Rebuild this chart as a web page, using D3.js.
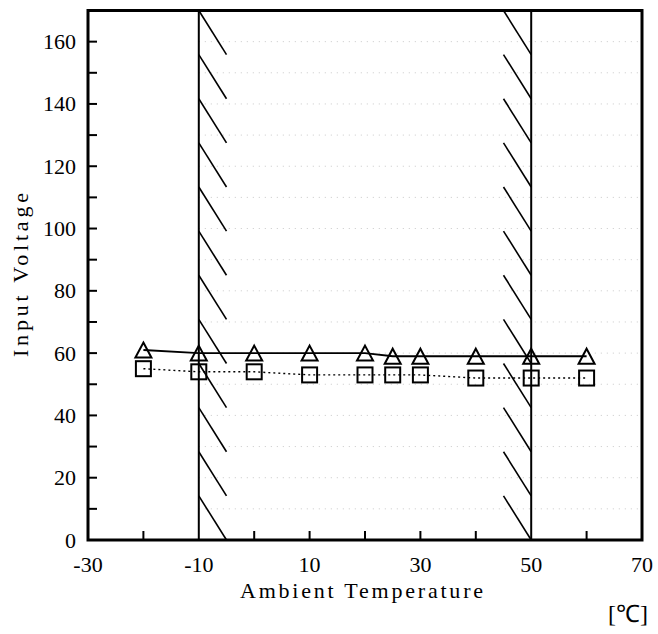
<!DOCTYPE html>
<html><head><meta charset="utf-8">
<script src="https://cdn.jsdelivr.net/npm/d3@7/dist/d3.min.js"></script>
<style>html,body{margin:0;padding:0;background:#fff;}svg{display:block;}</style>
</head><body>
<svg id="chart" width="658" height="634"></svg>
<script>
// ---- data ----
const temperatures = [-20, -10, 0, 10, 20, 25, 30, 40, 50, 60];
const triangleSeries = [61, 60, 60, 60, 60, 59, 59, 59, 59, 59];
const squareSeries   = [55, 54, 54, 53, 53, 53, 53, 52, 52, 52];
const xTickLabels = [-30, -10, 10, 30, 50, 70];
const yTickLabels = [0, 20, 40, 60, 80, 100, 120, 140, 160];
const limitLines = [-10, 50];
const xTitle = "Ambient Temperature";
const yTitle = "Input Voltage";
const unitLabel = "[\u2103]";

// ---- layout ----
const L = 88, R = 642, T = 10.5, B = 540;
const x = d3.scaleLinear().domain([-30, 70]).range([L, R]);
const y = d3.scaleLinear().domain([0, 170]).range([B, T]);
const svg = d3.select("#chart").attr("font-family", "Liberation Serif");
const FONT = "Liberation Serif";

// grid (faint dotted)
const grid = svg.append("g").attr("stroke", "#c8c8c8").attr("stroke-width", 1).attr("stroke-dasharray", "1,5");
grid.selectAll("line.h").data(d3.range(10, 170, 10)).join("line")
  .attr("x1", x(-10)).attr("x2", x(70)).attr("y1", d => y(d)).attr("y2", d => y(d));

// hatching
const nH = 12, step = 170 / nH;
const hatchTops = d3.range(nH).map(k => 170 - k * step);
const hatch = svg.append("g").attr("stroke", "#000").attr("stroke-width", 1.6);
hatch.selectAll("line.a").data(hatchTops).join("line")
  .attr("x1", x(-10)).attr("y1", d => y(d)).attr("x2", x(-5)).attr("y2", d => y(d - step));
hatch.selectAll("line.b").data(hatchTops).join("line")
  .attr("x1", x(45)).attr("y1", d => y(d)).attr("x2", x(50)).attr("y2", d => y(d - step));

// limit lines
svg.append("g").selectAll("line").data(limitLines).join("line")
  .attr("x1", d => x(d)).attr("x2", d => x(d)).attr("y1", y(0)).attr("y2", y(170))
  .attr("stroke", "#000").attr("stroke-width", 2);

// ticks (inward)
const ticks = svg.append("g").attr("stroke", "#000").attr("stroke-width", 2);
ticks.selectAll("line.y").data(d3.range(10, 170, 10)).join("line")
  .attr("x1", L).attr("x2", L + 9).attr("y1", d => y(d)).attr("y2", d => y(d));
ticks.selectAll("line.x").data(d3.range(-20, 70, 10).filter(d => !limitLines.includes(d))).join("line")
  .attr("x1", d => x(d)).attr("x2", d => x(d)).attr("y1", B).attr("y2", B - 9);

// frame
svg.append("rect").attr("x", L).attr("y", T).attr("width", R - L).attr("height", B - T)
  .attr("fill", "none").attr("stroke", "#000").attr("stroke-width", 3);

// tick labels
svg.append("g").selectAll("text").data(yTickLabels).join("text")
  .attr("x", L - 12).attr("y", d => y(d) + 7.5).attr("text-anchor", "end")
  .attr("font-size", 22).attr("font-family", FONT).text(d => d);
svg.append("g").selectAll("text").data(xTickLabels).join("text")
  .attr("x", d => x(d)).attr("y", 572).attr("text-anchor", "middle")
  .attr("font-size", 22).attr("font-family", FONT).text(d => (d < 0 ? "-" + Math.abs(d) : d));

// titles
svg.append("text").attr("x", 240).attr("y", 598).attr("font-size", 22).attr("font-family", FONT)
  .attr("textLength", 243).attr("lengthAdjust", "spacing").text(xTitle);
svg.append("text").attr("transform", "translate(28,357) rotate(-90)")
  .attr("font-size", 22).attr("font-family", FONT)
  .attr("textLength", 164).attr("lengthAdjust", "spacing").text(yTitle);
svg.append("text").attr("x", 648).attr("y", 622).attr("text-anchor", "end")
  .attr("font-size", 24).attr("font-family", FONT).text(unitLabel);

// series
const tri = temperatures.map((t, i) => [t, triangleSeries[i]]);
const sq = temperatures.map((t, i) => [t, squareSeries[i]]);
const line = d3.line().x(d => x(d[0])).y(d => y(d[1]));
svg.append("path").attr("d", line(tri)).attr("fill", "none").attr("stroke", "#000").attr("stroke-width", 1.8);
svg.append("path").attr("d", line(sq)).attr("fill", "none").attr("stroke", "#000").attr("stroke-width", 1.4)
  .attr("stroke-dasharray", "2,3");

svg.append("g").selectAll("path").data(tri).join("path")
  .attr("d", d => { const cx = x(d[0]), cy = y(d[1]);
    return `M${cx},${cy - 7.5}L${cx + 8},${cy + 7.5}L${cx - 8},${cy + 7.5}Z`; })
  .attr("fill", "none").attr("stroke", "#000").attr("stroke-width", 2);
svg.append("g").selectAll("rect").data(sq).join("rect")
  .attr("x", d => x(d[0]) - 7.5).attr("y", d => y(d[1]) - 7.5).attr("width", 15).attr("height", 15)
  .attr("fill", "none").attr("stroke", "#000").attr("stroke-width", 2);
</script>
</body></html>
